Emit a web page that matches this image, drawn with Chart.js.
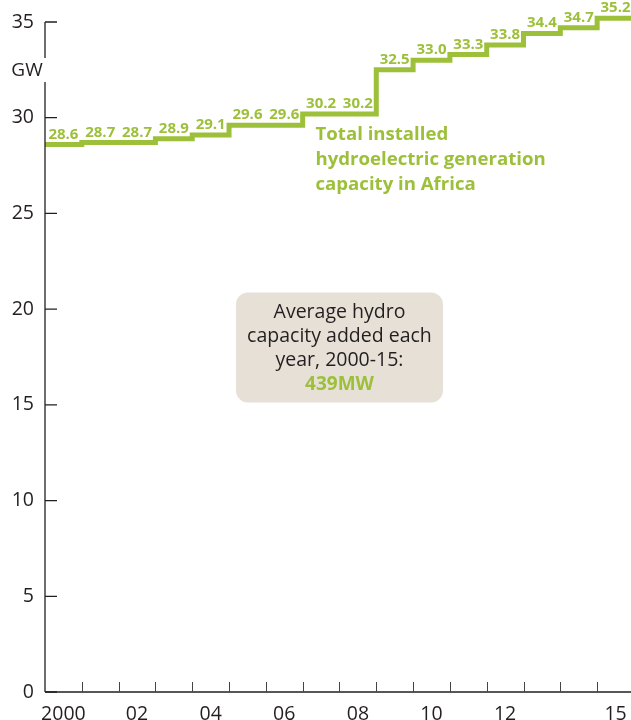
<!DOCTYPE html>
<html>
<head>
<meta charset="utf-8">
<script src="https://cdn.jsdelivr.net/npm/chart.js@4/dist/chart.umd.min.js"></script>
<style>
  body { margin: 0; background: #fff; }
  #wrap { width: 631px; height: 720px; }
</style>
</head>
<body>
<div id="wrap"><canvas id="hydroChart" width="631" height="720"></canvas></div>
<script>
// installed hydro capacity, GW
const years = [2000, 2001, 2002, 2003, 2004, 2005, 2006, 2007, 2008, 2009, 2010, 2011, 2012, 2013, 2014, 2015];
const capacity = [28.6, 28.7, 28.7, 28.9, 29.1, 29.6, 29.6, 30.2, 30.2, 32.5, 33.0, 33.3, 33.8, 34.4, 34.7, 35.2];
const tickYears = [2000, 2002, 2004, 2006, 2008, 2010, 2012, 2015];
const tickLabels = ['2000', '02', '04', '06', '08', '10', '12', '15'];
const yTicks = [0, 5, 10, 15, 20, 25, 30, 35];

const green = '#9dc03a';
const ink = '#231f20';
const font = '"Open Sans", "Noto Sans", sans-serif';

// each year is a flat step from start of the year to the next
const stepPoints = years.map((y, i) => ({ x: y - 0.5, y: capacity[i] }));
stepPoints.push({ x: years[years.length - 1] + 0.5, y: capacity[capacity.length - 1] });

const axesPlugin = {
    id: 'axesPlugin',
    afterDraw(chart) {
        const ctx = chart.ctx;
        const xs = chart.scales.x, ys = chart.scales.y;
        const left = chart.chartArea.left, bottom = ys.getPixelForValue(0);
        ctx.save();
        ctx.strokeStyle = ink;
        ctx.lineWidth = 1.3;
        // y axis with a gap for the unit
        ctx.beginPath();
        ctx.moveTo(left, ys.getPixelForValue(35));
        ctx.lineTo(left, 58);
        ctx.moveTo(left, 82);
        ctx.lineTo(left, bottom);
        // x axis
        ctx.moveTo(left, bottom);
        ctx.lineTo(chart.width, bottom);
        ctx.stroke();
        // y ticks, inward
        ctx.beginPath();
        yTicks.forEach(v => {
            const py = ys.getPixelForValue(v);
            ctx.moveTo(left, py);
            ctx.lineTo(left + 12, py);
        });
        ctx.stroke();
        // x ticks at year boundaries
        ctx.lineWidth = 1;
        ctx.strokeStyle = '#444';
        ctx.beginPath();
        for (let i = 0; i < years.length - 1; i++) {
            const px = Math.round(xs.getPixelForValue(years[i] + 0.5)) + 0.5;
            ctx.moveTo(px, bottom);
            ctx.lineTo(px, bottom - 10);
        }
        ctx.stroke();
        // unit
        ctx.fillStyle = ink;
        ctx.font = '19px ' + font;
        ctx.textAlign = 'center';
        ctx.textBaseline = 'middle';
        ctx.fillText('GW', 27, 71);

        // value labels
        ctx.fillStyle = green;
        ctx.font = 'bold 15px ' + font;
        ctx.textBaseline = 'alphabetic';
        years.forEach((y, i) => {
            ctx.fillText(capacity[i].toFixed(1), xs.getPixelForValue(y), ys.getPixelForValue(capacity[i]) - 6);
        });

        // series note
        ctx.textAlign = 'left';
        ctx.font = 'bold 18.6px ' + font;
        const nx = xs.getPixelForValue(2006.85);
        const ny = ys.getPixelForValue(28.85);
        ['Total installed', 'hydroelectric generation', 'capacity in Africa'].forEach((t, i) => {
            ctx.fillText(t, nx, ny + i * 25);
        });

        // average box
        const cx = xs.getPixelForValue(2007.5), cy = ys.getPixelForValue(18);
        const bw = 207, bh = 110;
        ctx.fillStyle = '#e6e0d6';
        ctx.beginPath();
        ctx.roundRect(cx - bw / 2, cy - bh / 2, bw, bh, 12);
        ctx.fill();
        ctx.textAlign = 'center';
        ctx.textBaseline = 'middle';
        ctx.fillStyle = ink;
        ctx.font = '19.5px ' + font;
        ['Average hydro', 'capacity added each', 'year, 2000-15:'].forEach((t, i) => {
            ctx.fillText(t, cx, cy - 35 + i * 24);
        });
        ctx.fillStyle = green;
        ctx.font = 'bold 19px ' + font;
        ctx.fillText('439MW', cx, cy - 35 + 3 * 24);
        ctx.restore();
    }
};

const ctx = document.getElementById('hydroChart').getContext('2d');
new Chart(ctx, {
    type: 'line',
    data: {
        datasets: [{
            label: 'Total installed hydroelectric generation capacity in Africa',
            data: stepPoints,
            stepped: true,
            clip: false,
            borderColor: green,
            borderWidth: 5,
            borderJoinStyle: 'miter',
            borderCapStyle: 'butt',
            pointRadius: 0,
            fill: false
        }]
    },
    options: {
        responsive: false,
        animation: false,
        layout: { padding: { top: 22, right: 0, left: 0, bottom: 0 } },
        plugins: { legend: { display: false }, tooltip: { enabled: false } },
        scales: {
            x: {
                type: 'linear',
                min: 1999.5,
                max: 2015.42,
                grid: { display: false },
                border: { display: false },
                afterBuildTicks: scale => { scale.ticks = tickYears.map(v => ({ value: v })); },
                afterFit: scale => { scale.height = 28; },
                ticks: {
                    color: ink,
                    font: { family: font, size: 19.5 },
                    padding: 3,
                    maxRotation: 0,
                    autoSkip: false,
                    callback: v => tickLabels[tickYears.indexOf(v)]
                }
            },
            y: {
                min: 0,
                max: 35,
                grid: { display: false },
                border: { display: false },
                afterFit: scale => { scale.width = 45; },
                ticks: {
                    stepSize: 5,
                    color: ink,
                    font: { family: font, size: 19.5 },
                    padding: 3
                }
            }
        }
    },
    plugins: [axesPlugin]
});
</script>
</body>
</html>
